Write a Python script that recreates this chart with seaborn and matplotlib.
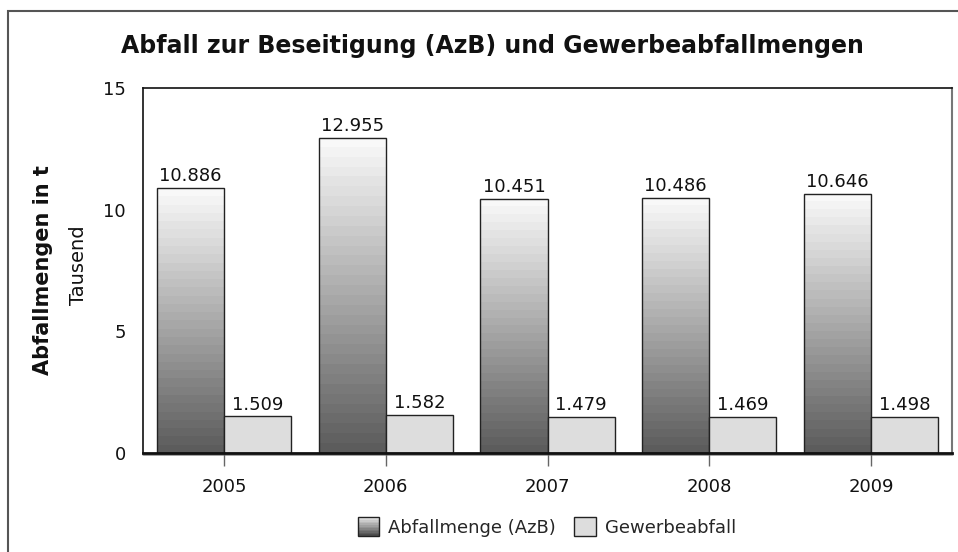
import numpy as np
import pandas as pd
import matplotlib
matplotlib.use("Agg")
import matplotlib.pyplot as plt
from matplotlib.patches import Rectangle, Patch
from matplotlib.legend_handler import HandlerBase
import seaborn as sns

# chart data (tonnes)
years = ["2005", "2006", "2007", "2008", "2009"]
azb = [10886, 12955, 10451, 10486, 10646]
gewerbe = [1509, 1582, 1479, 1469, 1498]
series = ["Abfallmenge (AzB)", "Gewerbeabfall"]

df = pd.DataFrame({
    "Jahr": years * 2,
    "Art": [series[0]] * len(years) + [series[1]] * len(years),
    "Menge": azb + gewerbe,
})
df["Tausend"] = df["Menge"] / 1000

sns.set_theme(style="white")
plt.rcParams["font.family"] = ["DejaVu Sans"]

fig = plt.figure(figsize=(9.58, 5.52), dpi=100)
ax = fig.add_axes([143 / 958, 99 / 552, 809 / 958, 365 / 552])

sns.barplot(data=df, x="Jahr", y="Tausend", hue="Art", hue_order=series,
            palette=["#777777", "#dddddd"], width=0.83, gap=0,
            edgecolor="#222222", linewidth=1, ax=ax, legend=False, errorbar=None)

# gradient fill for the AzB bars, light at top, dark at bottom
n_band = 32
band = np.linspace(0.97, 0.36, n_band).reshape(-1, 1)
for bar in ax.containers[0]:
    x, w, h = bar.get_x(), bar.get_width(), bar.get_height()
    ax.imshow(band, extent=[x, x + w, 0, h], aspect="auto", cmap="gray",
              vmin=0, vmax=1, interpolation="nearest", origin="upper", zorder=1.5)
    bar.set_facecolor("none")
    bar.set_zorder(2)
for bar in ax.containers[1]:
    bar.set_zorder(2)

# value labels with German thousand separator
for cont, vals in zip(ax.containers, [azb, gewerbe]):
    labels = [f"{v:,}".replace(",", ".") for v in vals]
    ax.bar_label(cont, labels=labels, padding=2, fontsize=13, color="#111111")

ax.set_xlim(-0.5, 4.5)
ax.set_ylim(0, 15)
ax.set_yticks([0, 5, 10, 15])
ax.set_xlabel("")
ax.set_ylabel("")
ax.tick_params(axis="y", length=0, labelsize=13, pad=12.5, colors="#111111")
ax.tick_params(axis="x", length=9, width=1, color="#666666", labelsize=13,
               pad=9, direction="out", bottom=True, labelcolor="#111111")
ax.set_xticks(range(len(years)))
ax.set_xticklabels(years)

for side in ["left", "top"]:
    ax.spines[side].set_color("#111111")
    ax.spines[side].set_linewidth(1.2)
ax.spines["right"].set_color("#777777")
ax.spines["right"].set_linewidth(1.5)
ax.spines["bottom"].set_color("#111111")
ax.spines["bottom"].set_linewidth(2)
ax.axhline(-0.06, color="#999999", lw=2, clip_on=False, zorder=0)

fig.text(492 / 958, 1 - 46 / 552, "Abfall zur Beseitigung (AzB) und Gewerbeabfallmengen",
         ha="center", va="center", fontsize=17, fontweight="bold", color="#111111")
fig.text(43 / 958, 1 - 270 / 552, "Abfallmengen in t", rotation=90, ha="center",
         va="center", fontsize=15, fontweight="bold", color="#111111")
fig.text(79 / 958, 1 - 265 / 552, "Tausend", rotation=90, ha="center",
         va="center", fontsize=14, color="#111111")

# outer chart frame
fig.patches.append(Rectangle((8 / 958, -0.1), 1.2, 1.1 - 11 / 552,
                             transform=fig.transFigure, fill=False,
                             edgecolor="#555555", lw=1.5))


class GradientHandler(HandlerBase):
    def create_artists(self, legend, orig_handle, xdescent, ydescent,
                       width, height, fontsize, trans):
        arts = []
        n = 12
        shades = np.linspace(0.9, 0.3, n)
        for i, s in enumerate(shades):
            r = Rectangle((-xdescent, -ydescent + height * (n - 1 - i) / n),
                          width, height / n, facecolor=str(s), edgecolor="none",
                          transform=trans)
            arts.append(r)
        arts.append(Rectangle((-xdescent, -ydescent), width, height,
                              facecolor="none", edgecolor="#222222", lw=1,
                              transform=trans))
        return arts


h1 = Patch(facecolor="#777777", edgecolor="#222222", label=series[0])
h2 = Patch(facecolor="#dddddd", edgecolor="#222222", label=series[1])
fig.legend(handles=[h1, h2], labels=series, loc="center",
           bbox_to_anchor=(547 / 958, 1 - 527 / 552), ncol=2, frameon=False,
           fontsize=13, handlelength=1.2, handleheight=1.2, handletextpad=0.5,
           columnspacing=1.0, handler_map={h1: GradientHandler()})

fig.savefig("out.png", dpi=100)
